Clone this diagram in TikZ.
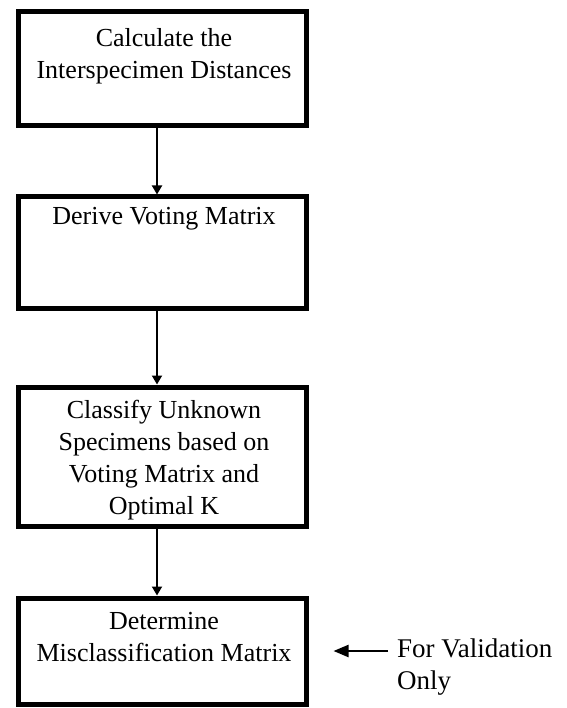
\documentclass[tikz,border=0pt]{standalone}
\usepackage{fontspec}
\setmainfont{Liberation Serif}
\usetikzlibrary{arrows.meta}
\begin{document}
\begin{tikzpicture}[x=1pt,y=-1pt,
		stage/.style={draw, line width=5pt, minimum width=288pt, inner sep=0pt},
		txt/.style={align=center, inner sep=0pt, anchor=north, font=\fontsize{26}{32}\selectfont},
		flow/.style={line width=1.8pt, -{Triangle[length=9pt,width=10pt]}},
		pointer/.style={line width=2.2pt, -{Triangle[length=15pt,width=12pt]}}]
		\useasboundingbox (0,0) rectangle (566,708);
		\node[stage, minimum height=114pt] (calc) at (162,69) {};
		\node[stage, minimum height=111pt] (vote) at (162,252.5) {};
		\node[stage, minimum height=139pt] (class) at (162,456.5) {};
		\node[stage, minimum height=106pt] (miscl) at (162,651) {};
		\node[txt] (calctxt) at (164,28) {Calculate the\\Interspecimen Distances};
		\node[txt] (votetxt) at (164,207) {Derive Voting Matrix};
		\node[txt] (classtxt) at (164,400) {Classify Unknown\\Specimens based on\\Voting Matrix and\\Optimal K};
		\node[txt] (miscltxt) at (164,612) {Determine\\Misclassification Matrix};
		\node[txt, anchor=north west, align=left, font=\fontsize{27}{32}\selectfont] (note) at (397,639) {For Validation\\Only};
		\draw[flow] ([xshift=-5pt]calc.south) -- ([xshift=-5pt]vote.north);
		\draw[flow] ([xshift=-5pt]vote.south) -- ([xshift=-5pt]class.north);
		\draw[flow] ([xshift=-5pt]class.south) -- ([xshift=-5pt]miscl.north);
		\draw[pointer] ([xshift=-9pt]note.west |- miscl.east) -- ([xshift=25pt]miscl.east);
	\end{tikzpicture}
\end{document}
